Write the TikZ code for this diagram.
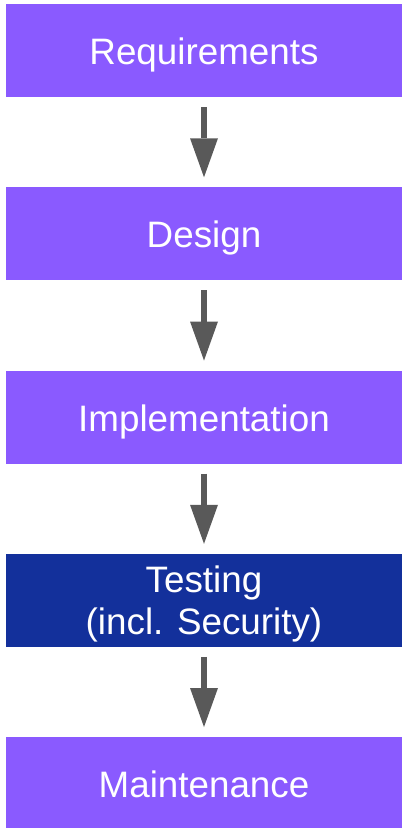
\documentclass[tikz,border=0pt]{standalone}
\usepackage{fontspec}
\setmainfont{Liberation Sans}
\usetikzlibrary{arrows.meta}
\definecolor{phase}{RGB}{138,90,255}
\definecolor{focus}{RGB}{19,48,155}
\definecolor{flowgray}{RGB}{89,89,89}
\begin{document}
\begin{tikzpicture}[x=1pt,y=-1pt,
  box/.style={draw=none, fill=phase, minimum width=396pt, minimum height=93pt,
              inner sep=0pt, outer sep=0pt},
  label/.style={text=white, anchor=base, inner sep=0pt,
                font=\fontsize{36.8}{42}\selectfont},
  flow/.style={draw=flowgray, line width=6pt,
               -{Triangle[length=39pt,width=28pt,line width=0pt]},
               shorten <=10pt, shorten >=10pt}]
\useasboundingbox (0,0) rectangle (410,828);
% phase boxes, one every 183.25 units
\node[box] (req)  at (204,50.5) {};
\node[box] (des)  at (204,233.75) {};
\node[box] (impl) at (204,417) {};
\node[box, fill=focus] (test) at (204,600.25) {};
\node[box] (main) at (204,783.5) {};
% captions, set on their baselines
\node[label] (reqT)  at ([yshift=-14pt]req.center)  {Requirements};
\node[label] (desT)  at ([yshift=-14pt]des.center)  {Design};
\node[label] (implT) at ([yshift=-14pt]impl.center) {Implementation};
\node[label] (testA) at ([yshift=7.5pt]test.center) {Testing};
\node[label] (testB) at ([yshift=-34.5pt]test.center) {(incl. Security)};
\node[label] (mainT) at ([yshift=-14pt]main.center) {Maintenance};
% flow between phases
\draw[flow] (req.south)  -- (des.north);
\draw[flow] (des.south)  -- (impl.north);
\draw[flow] (impl.south) -- (test.north);
\draw[flow] (test.south) -- (main.north);
\end{tikzpicture}
\end{document}
